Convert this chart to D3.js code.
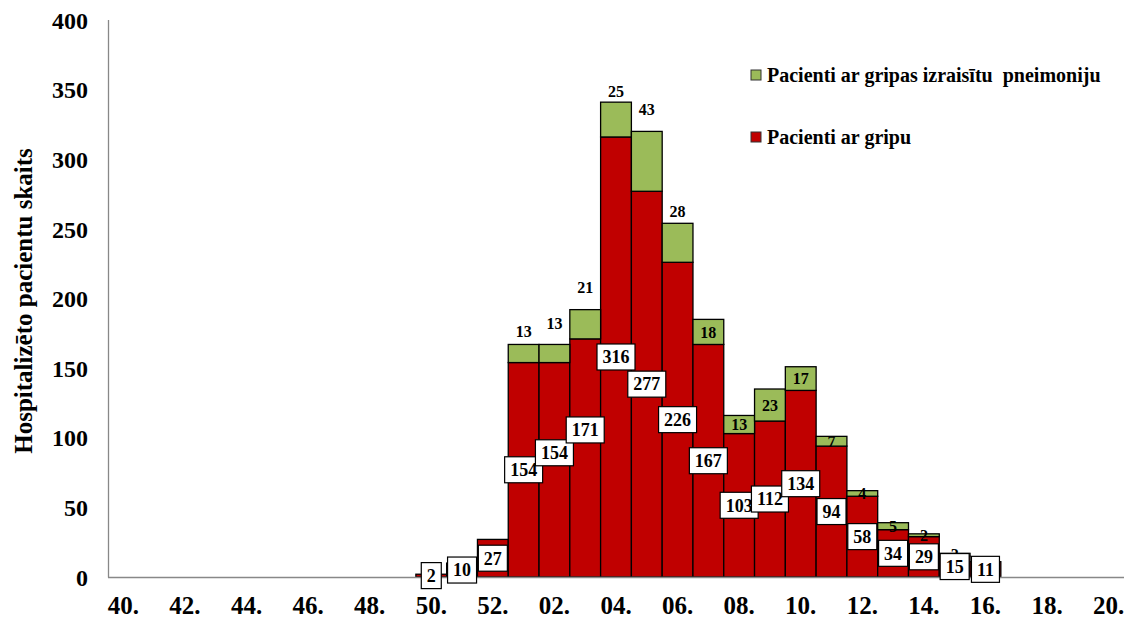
<!DOCTYPE html>
<html>
<head>
<meta charset="utf-8">
<script src="https://cdn.jsdelivr.net/npm/d3@7"></script>
<style>
  html, body { margin: 0; padding: 0; background: #fff; }
  svg { display: block; }
  svg text { font-family: "Liberation Serif", "Times New Roman", serif !important; }
</style>
</head>
<body>
<svg id="chart" width="1130" height="625"></svg>
<script>
// ---- data ----
const weeks = ["40","41","42","43","44","45","46","47","48","49","50","51","52",
               "01","02","03","04","05","06","07","08","09","10","11","12","13","14","15","16","17","18","19","20"];
const influenza = [0,0,0,0,0,0,0,0,0,0,2,10,27,
                   154,154,171,316,277,226,167,103,112,134,94,58,34,29,15,11,0,0,0,0];
const pneumonia = [0,0,0,0,0,0,0,0,0,0,0,0,0,
                   13,13,21,25,43,28,18,13,23,17,7,4,5,2,2,0,0,0,0,0];
const yTicks = [0,50,100,150,200,250,300,350,400];
const seriesNames = ["Pacienti ar gripas izraisītu  pneimoniju", "Pacienti ar gripu"];
const yTitle = "Hospitalizēto pacientu skaits";

// ---- layout (label placement, not data) ----
const aboveLift = {"01":13,"02":21,"03":22,"04":11,"05":22,"06":12}; // green labels placed above bar top
const boxShift = {"02":-17,"03":-28};                                // manual vertical nudges of white boxes

const colors = {flu:"#C00000", pneu:"#9BBB59"};
const svg = d3.select("#chart");
const x = d3.scaleBand().domain(weeks).range([108, 1124]).padding(0);
const y = d3.scaleLinear().domain([0, 400]).range([577, 20]);

const rows = weeks.map((w,i) => ({week:w, flu:influenza[i], pneu:pneumonia[i]}));
const stack = d3.stack().keys(["flu","pneu"])(rows);

// bars
const gBars = svg.append("g");
stack.forEach(layer => {
  gBars.selectAll(null).data(layer.filter(d => d[1] - d[0] > 0)).enter().append("rect")
    .attr("x", d => x(d.data.week))
    .attr("y", d => y(d[1]))
    .attr("width", x.bandwidth())
    .attr("height", d => y(d[0]) - y(d[1]))
    .attr("fill", colors[layer.key])
    .attr("stroke", "#000")
    .attr("stroke-width", 1.3);
});

// axes
svg.append("line").attr("x1",108.5).attr("x2",108.5).attr("y1",y(400)).attr("y2",y(0)+0.5)
  .attr("stroke","#888").attr("stroke-width",1.3);
svg.append("line").attr("x1",108).attr("x2",1124).attr("y1",y(0)+0.5).attr("y2",y(0)+0.5)
  .attr("stroke","#888").attr("stroke-width",1.3);

const yAxis = d3.axisLeft(y).tickValues(yTicks).tickSize(0).tickPadding(0);
const gy = svg.append("g").attr("transform","translate(88,0)").call(yAxis)
  .attr("font-family","Liberation Serif");
gy.select(".domain").remove();
gy.selectAll("text").attr("font-size",24).attr("font-weight","bold")
  .attr("fill","#000").attr("dy","0.34em");

const xAxis = d3.axisBottom(x).tickValues(weeks.filter((w,i) => i % 2 === 0)).tickFormat(w => w + ".").tickSize(0).tickPadding(0);
const gx = svg.append("g").attr("transform","translate(0,605)").call(xAxis)
  .attr("font-family","Liberation Serif");
gx.select(".domain").remove();
gx.selectAll("text").attr("font-size",25).attr("font-weight","bold")
  .attr("fill","#000").attr("dy","0.34em");

// y title
svg.append("text").attr("transform","translate(32,301) rotate(-90)")
  .attr("text-anchor","middle").attr("font-size",25).attr("font-weight","bold").text(yTitle);

// green labels
const gLab = svg.append("g");
rows.forEach(r => {
  if (r.pneu <= 0) return;
  const cx = x(r.week) + x.bandwidth()/2;
  let cy;
  if (aboveLift[r.week] !== undefined) cy = y(r.flu + r.pneu) - aboveLift[r.week];
  else cy = y(r.flu + r.pneu/2);
  gLab.append("text").attr("x", cx).attr("y", cy).attr("dy","0.35em")
    .attr("text-anchor","middle").attr("font-size",16).attr("font-weight","bold").text(r.pneu);
});

// white boxes for influenza values
const gBox = svg.append("g");
rows.forEach(r => {
  if (r.flu <= 0) return;
  const cx = x(r.week) + x.bandwidth()/2;
  const cy = y(r.flu/2) + (boxShift[r.week] || 0);
  const g = gBox.append("g");
  const rect = g.append("rect");
  const t = g.append("text").attr("x", cx).attr("y", cy).attr("dy","0.35em")
    .attr("text-anchor","middle").attr("font-size",18).attr("font-weight","bold").text(r.flu);
  const w = t.node().getComputedTextLength() + 11;
  rect.attr("x", cx - w/2).attr("y", cy - 13).attr("width", w).attr("height", 26)
    .attr("fill","#fff").attr("stroke","#000").attr("stroke-width",1.2);
});

// legend
const legend = svg.append("g");
const legY = [75, 137];
const legC = [colors.pneu, colors.flu];
seriesNames.forEach((name, i) => {
  legend.append("rect").attr("x",751).attr("y",legY[i]-5).attr("width",10).attr("height",10)
    .attr("fill",legC[i]).attr("stroke","#333").attr("stroke-width",1);
  legend.append("text").attr("x",767).attr("y",legY[i]).attr("dy","0.35em")
    .attr("font-size",20).attr("font-weight","bold").attr("xml:space","preserve")
    .style("white-space","pre").text(name);
});
</script>
</body>
</html>
